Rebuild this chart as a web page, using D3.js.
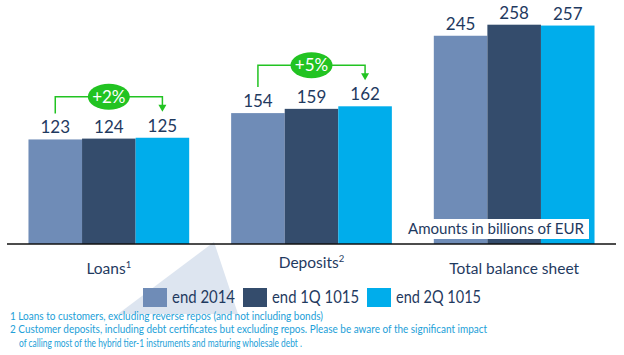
<!DOCTYPE html>
<html><head><meta charset="utf-8">
<script src="https://cdn.jsdelivr.net/npm/d3@7"></script>
<style>
html,body{margin:0;padding:0;background:#fff;}
svg{display:block;font-family:Lato,"Open Sans",sans-serif;}
</style></head>
<body><svg id="c" width="624" height="355"></svg>
<script>
// ---- data ----
const categories = ["Loans", "Deposits", "Total balance sheet"];
const categorySup = ["1", "2", ""];
const seriesNames = ["end 2014", "end 1Q 1015", "end 2Q 1015"];
const seriesColors = ["#6f8cb7", "#344c6c", "#00adeb"];
const loans = [123, 124, 125];
const deposits = [154, 159, 162];
const totalBalance = [245, 258, 257];
const growthLabels = ["+2%", "+5%"];
const growthCategories = ["Loans", "Deposits"];
const unitNote = "Amounts in billions of EUR";
const footnotes = [
  "1 Loans to customers, excluding reverse repos (and not including bonds)",
  "2 Customer deposits, including debt certificates but excluding repos. Please be aware of the significant impact",
  "of calling most of the hybrid tier-1 instruments and maturing wholesale  debt ."
];

const values = [loans, deposits, totalBalance];
const navy = "#1f3a5f";
const green = "#22c322";

const svg = d3.select("#c");
const x = d3.scaleBand().domain(categories).range([7.5, 615.5]).paddingInner(0.207).paddingOuter(0.1035);
const xs = d3.scaleBand().domain(seriesNames).range([0, x.bandwidth()]).padding(0);
const y = d3.scaleLinear().domain([0, 280]).range([244, 6]);

// decorative triangle
svg.append("path").attr("d", "M214,242 L118,314 L238,314 Z").attr("fill", "#dde5f0");

// bars
const g = svg.selectAll("g.cat").data(categories).join("g").attr("class", "cat")
  .attr("transform", d => `translate(${x(d)},0)`);
g.each(function(cat, ci) {
  const sel = d3.select(this);
  const rows = seriesNames.map((s, si) => ({s, v: values[ci][si], c: seriesColors[si]}));
  sel.selectAll("rect").data(rows).join("rect")
    .attr("x", d => xs(d.s)).attr("width", xs.bandwidth())
    .attr("y", d => y(d.v)).attr("height", d => y(0) - y(d.v))
    .attr("fill", d => d.c);
  sel.selectAll("text.val").data(rows).join("text").attr("class", "val")
    .attr("x", d => xs(d.s) + xs.bandwidth() / 2).attr("y", d => y(d.v) - 6)
    .attr("text-anchor", "middle").attr("font-size", 17).attr("fill", navy)
    .text(d => d.v);
});

// unit note box
svg.append("rect").attr("x", 404).attr("y", 219).attr("width", 185).attr("height", 20).attr("fill", "#fff");
svg.append("text").attr("x", 496).attr("y", 234).attr("text-anchor", "middle")
  .attr("font-size", 16).attr("fill", navy).attr("textLength", 176).attr("lengthAdjust", "spacingAndGlyphs").text(unitNote);

// axis baseline
svg.append("line").attr("x1", 7).attr("x2", 616).attr("y1", y(0)).attr("y2", y(0))
  .attr("stroke", "#111").attr("stroke-width", 1.5);

// category labels
const catY = [274, 268, 274];
categories.forEach((c, i) => {
  const t = svg.append("text").attr("x", x(c) + x.bandwidth() / 2).attr("y", catY[i])
    .attr("text-anchor", "middle").attr("font-size", 15.5).attr("fill", navy).text(c);
  if (categorySup[i]) t.append("tspan").attr("font-size", 9.5).attr("dy", -6).text(categorySup[i]);
});

// growth annotations
growthCategories.forEach((c, i) => {
  const v = values[categories.indexOf(c)];
  const x0 = x(c) + xs(seriesNames[0]) + xs.bandwidth() / 2;
  const x2 = x(c) + xs(seriesNames[2]) + xs.bandwidth() / 2;
  const xm = x(c) + x.bandwidth() / 2;
  const yTop = y(d3.max(v)) - 41;
  const yStart = y(v[0]) - 26;
  const yEnd = y(v[2]) - 26;
  svg.append("path").attr("d", `M${x0},${yStart} V${yTop} H${x2} V${yEnd - 6}`)
    .attr("fill", "none").attr("stroke", green).attr("stroke-width", 1.5);
  svg.append("path").attr("d", `M${x2 - 4},${yEnd - 7} L${x2 + 4},${yEnd - 7} L${x2},${yEnd} Z`).attr("fill", green);
  svg.append("ellipse").attr("cx", xm).attr("cy", yTop).attr("rx", 21).attr("ry", 13).attr("fill", green);
  svg.append("text").attr("x", xm).attr("y", yTop + 6).attr("text-anchor", "middle")
    .attr("font-size", 17).attr("fill", "#fff").text(growthLabels[i]);
});

// legend
const legX = [143, 243, 367], legW = [63, 87, 85];
seriesNames.forEach((s, i) => {
  svg.append("rect").attr("x", legX[i]).attr("y", 288).attr("width", 24).attr("height", 19).attr("fill", seriesColors[i]);
  svg.append("text").attr("x", legX[i] + 29).attr("y", 303).attr("font-size", 17).attr("fill", navy)
    .attr("textLength", legW[i]).attr("lengthAdjust", "spacingAndGlyphs").text(s);
});

// footnotes
const fnX = [10, 10, 19], fnY = [320, 333, 347], fnW = [313, 477, 283];
footnotes.forEach((f, i) => {
  svg.append("text").attr("x", fnX[i]).attr("y", fnY[i]).attr("font-size", 10.5).attr("fill", "#22a0d8")
    .attr("textLength", fnW[i]).attr("lengthAdjust", "spacingAndGlyphs").text(f);
});
</script></body></html>
